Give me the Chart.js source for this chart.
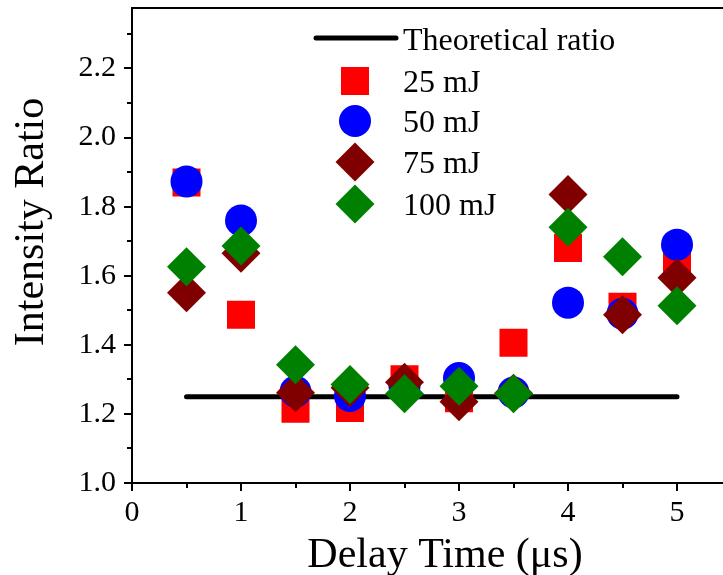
<!DOCTYPE html>
<html>
<head>
<meta charset="utf-8">
<title>Intensity ratio vs delay time</title>
<script src="https://cdn.jsdelivr.net/npm/chart.js@4.4.1/dist/chart.umd.min.js"></script>
<style>
  html, body { margin: 0; padding: 0; background: #fff; overflow: hidden; }
  #wrap { width: 723px; height: 575px; overflow: hidden; }
</style>
</head>
<body>
<div id="wrap"><canvas id="chart" width="740" height="575"></canvas></div>
<script>
// Delay times (µs) and measured intensity ratios per laser energy
const DELAY = [0.5, 1, 1.5, 2, 2.5, 3, 3.5, 4, 4.5, 5];
const RATIO_25 = [1.870, 1.487, 1.215, 1.217, 1.300, 1.245, 1.406, 1.680, 1.510, 1.640];
const RATIO_50 = [1.873, 1.760, 1.265, 1.252, 1.280, 1.304, 1.262, 1.522, 1.490, 1.690];
const RATIO_75 = [1.551, 1.665, 1.261, 1.276, 1.292, 1.235, 1.260, 1.835, 1.487, 1.594];
const RATIO_100 = [1.626, 1.686, 1.342, 1.285, 1.258, 1.280, 1.258, 1.740, 1.655, 1.513];

// Theoretical ratio, drawn as a flat line across the measured range
const THEORY_X = [0.5, 5];
const THEORY_Y = [1.25, 1.25];

// Axis ticks
const X_TICKS = [0, 1, 2, 3, 4, 5];
const X_MINOR = [0.5, 1.5, 2.5, 3.5, 4.5, 5.5];
const Y_TICKS = [1.0, 1.2, 1.4, 1.6, 1.8, 2.0, 2.2];
const Y_MINOR = [1.1, 1.3, 1.5, 1.7, 1.9, 2.1, 2.3];

const SERIF = "'Liberation Serif', 'Times New Roman', serif";

const pts = (xs, ys) => xs.map((x, i) => ({ x, y: ys[i] }));

const SERIES = [
  { label: "25 mJ", data: RATIO_25, color: "#ff0000", style: "rect", radius: 19.8 },
  { label: "50 mJ", data: RATIO_50, color: "#0000ff", style: "circle", radius: 16 },
  { label: "75 mJ", data: RATIO_75, color: "#800000", style: "rectRot", radius: 19.5 },
  { label: "100 mJ", data: RATIO_100, color: "#008000", style: "rectRot", radius: 19.5 },
];

function marker(ctx, style, radius, color, x, y) {
  ctx.fillStyle = color;
  if (Chart.helpers && Chart.helpers.drawPoint) {
    Chart.helpers.drawPoint(ctx, { pointStyle: style, radius, rotation: 0, borderWidth: 0 }, x, y);
    return;
  }
  ctx.beginPath();
  if (style === "circle") ctx.arc(x, y, radius, 0, Math.PI * 2);
  else if (style === "rect") { const h = radius * Math.SQRT1_2; ctx.rect(x - h, y - h, 2 * h, 2 * h); }
  else { ctx.moveTo(x, y - radius); ctx.lineTo(x + radius, y); ctx.lineTo(x, y + radius); ctx.lineTo(x - radius, y); ctx.closePath(); }
  ctx.fill();
}

// frame top edge, minor ticks, axis titles and the inset legend
const decor = {
  id: "decor",
  afterDraw(chart) {
    const { ctx, chartArea: a, scales: { x, y } } = chart;
    ctx.save();
    ctx.strokeStyle = "#000";
    ctx.lineWidth = 2;
    ctx.beginPath();
    ctx.moveTo(a.left - 1, a.top);
    ctx.lineTo(a.right, a.top);
    X_MINOR.forEach((v) => {
      const px = Math.round(x.getPixelForValue(v));
      ctx.moveTo(px, a.bottom);
      ctx.lineTo(px, a.bottom + 5);
    });
    Y_MINOR.forEach((v) => {
      const py = Math.round(y.getPixelForValue(v));
      ctx.moveTo(a.left, py);
      ctx.lineTo(a.left - 5, py);
    });
    ctx.stroke();

    ctx.fillStyle = "#000";
    ctx.textBaseline = "alphabetic";
    ctx.font = "42px " + SERIF;
    ctx.textAlign = "center";
    ctx.fillText("Delay Time (\u03bcs)", 445, 567);
    ctx.save();
    ctx.translate(43, 222);
    ctx.rotate(-Math.PI / 2);
    ctx.fillText("Intensity Ratio", 0, 0);
    ctx.restore();

    // legend
    ctx.font = "32px " + SERIF;
    ctx.textAlign = "left";
    ctx.lineWidth = 5;
    ctx.lineCap = "round";
    ctx.beginPath();
    ctx.moveTo(316, 38);
    ctx.lineTo(396, 38);
    ctx.stroke();
    ctx.fillText("Theoretical ratio", 403, 50);
    const rowY = [81, 121, 162, 204];
    SERIES.forEach((s, i) => {
      marker(ctx, s.style, s.radius, s.color, 355, rowY[i]);
      ctx.fillStyle = "#000";
      ctx.fillText(s.label, 403, rowY[i] + 11);
    });
    ctx.restore();
  },
};

const datasets = [
  {
    label: "Theoretical ratio",
    data: pts(THEORY_X, THEORY_Y),
    showLine: true,
    borderColor: "#000",
    borderWidth: 5,
    borderCapStyle: "round",
    pointRadius: 0,
    order: 5,
  },
  ...SERIES.map((s, i) => ({
    label: s.label,
    data: pts(DELAY, s.data),
    pointStyle: s.style,
    pointRadius: s.radius,
    backgroundColor: s.color,
    borderColor: s.color,
    pointBorderWidth: 0,
    showLine: false,
    order: 4 - i,
  })),
];

function fixWidth(w) {
  return (scale) => {
    scale.width = w;
    scale.paddingTop = 0; scale.paddingBottom = 0;
  };
}
function fixHeight(h) {
  return (scale) => {
    scale.height = h;
    scale.paddingLeft = 0; scale.paddingRight = 0;
  };
}

new Chart(document.getElementById("chart"), {
  type: "scatter",
  data: { datasets },
  options: {
    responsive: false,
    animation: false,
    devicePixelRatio: 1,
    events: [],
    layout: { autoPadding: false, padding: { top: 8, right: 8.5, left: 0, bottom: 0 } },
    plugins: { legend: { display: false }, tooltip: { enabled: false } },
    scales: {
      x: {
        type: "linear",
        min: 0,
        max: 5.5,
        afterBuildTicks: (s) => { s.ticks = X_TICKS.map((value) => ({ value })); },
        afterFit: fixHeight(92),
        grid: { drawOnChartArea: false, tickLength: 8, lineWidth: 2, color: "#000" },
        border: { display: true, width: 2, color: "#000" },
        ticks: { padding: 4, color: "#000", font: { family: SERIF, size: 30 }, callback: (v) => String(v) },
      },
      y: {
        type: "linear",
        min: 1.0,
        max: 2.375,
        afterBuildTicks: (s) => { s.ticks = Y_TICKS.map((value) => ({ value })); },
        afterFit: fixWidth(132),
        grid: { drawOnChartArea: false, tickLength: 8, lineWidth: 2, color: "#000" },
        border: { display: true, width: 2, color: "#000" },
        ticks: { padding: 8, color: "#000", font: { family: SERIF, size: 30 }, callback: (v) => v.toFixed(1) },
      },
    },
  },
  plugins: [decor],
});
</script>
</body>
</html>
